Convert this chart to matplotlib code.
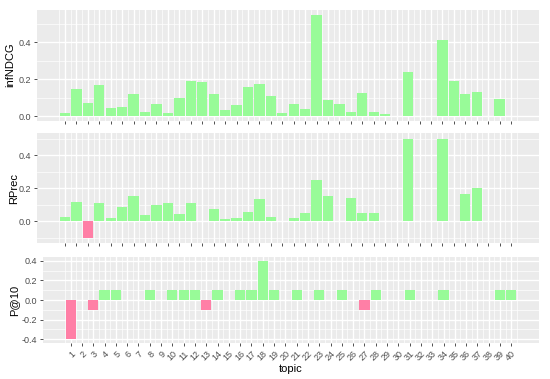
import numpy as np
import matplotlib
matplotlib.use("Agg")
import matplotlib.pyplot as plt

plt.rcParams['font.family'] = ['Liberation Sans', 'DejaVu Sans']

topics = list(range(1, 41))
infndcg = [0.018, 0.144, 0.070, 0.168, 0.043, 0.050, 0.117, 0.023, 0.067, 0.014,
           0.099, 0.191, 0.186, 0.117, 0.031, 0.059, 0.157, 0.173, 0.108, 0.018,
           0.063, 0.036, 0.548, 0.086, 0.065, 0.020, 0.124, 0.020, 0.011, 0.0,
           0.240, 0.0, 0.0, 0.409, 0.191, 0.117, 0.131, 0.0, 0.092, 0.0]
rprec = [0.030, 0.118, -0.100, 0.114, 0.020, 0.086, 0.152, 0.042, 0.100, 0.114,
         0.044, 0.112, 0.0, 0.076, 0.014, 0.022, 0.056, 0.136, 0.028, 0.0,
         0.024, 0.050, 0.252, 0.156, 0.0, 0.144, 0.054, 0.054, 0.0, 0.0,
         0.500, 0.0, 0.0, 0.500, 0.0, 0.168, 0.200, 0.0, 0.0, 0.0]
p10 = [-0.4, 0.0, -0.1, 0.1, 0.1, 0.0, 0.0, 0.1, 0.0, 0.1,
       0.1, 0.1, -0.1, 0.1, 0.0, 0.1, 0.1, 0.4, 0.1, 0.0,
       0.1, 0.0, 0.1, 0.0, 0.1, 0.0, -0.1, 0.1, 0.0, 0.0,
       0.1, 0.0, 0.0, 0.1, 0.0, 0.0, 0.0, 0.0, 0.1, 0.1]

GREEN = '#98FB98'
PINK = '#FF7FA6'
BG = '#EBEBEB'
TXT = '#4D4D4D'

W, H = 550, 379
fig = plt.figure(figsize=(W / 100, H / 100), dpi=100)


def make_ax(left, right, top, bottom):
    return fig.add_axes([left / W, 1 - bottom / H, (right - left) / W, (bottom - top) / H])


def style(ax, ylim, major, minor, show_labels):
    ax.set_facecolor(BG)
    for s in ax.spines.values():
        s.set_visible(False)
    ax.set_xlim(-1.45, 42.45)
    ax.set_ylim(*ylim)
    ax.set_xticks(topics)
    ax.set_xticks([t + 0.5 for t in topics[:-1]] + [0.5, 40.5], minor=True)
    ax.set_yticks(major)
    ax.set_yticks(minor, minor=True)
    ax.set_yticklabels([f'{v:.1f}' for v in major], color=TXT, fontsize=6.5)
    ax.grid(which='major', color='white', linewidth=1.0)
    ax.grid(which='minor', color='white', linewidth=0.5)
    ax.set_axisbelow(True)
    ax.tick_params(which='major', length=2.5, width=0.6, color='#333333', pad=2)
    ax.tick_params(which='minor', length=0)
    if show_labels:
        ax.set_xticklabels([str(t) for t in topics], rotation=45, ha='right',
                           rotation_mode='anchor', color=TXT, fontsize=6.5)
    else:
        ax.set_xticklabels([])


def bars(ax, vals):
    cols = [PINK if v < 0 else GREEN for v in vals]
    ax.bar(topics, vals, width=0.9, color=cols, linewidth=0)


ax1 = make_ax(37, 539, 9.5, 121)
style(ax1, (-0.027, 0.576), [0.0, 0.2, 0.4], [0.1, 0.3, 0.5], False)
bars(ax1, infndcg)

ax2 = make_ax(37, 539, 133, 243)
style(ax2, (-0.13, 0.535), [0.0, 0.2, 0.4], [-0.1, 0.1, 0.3, 0.5], False)
bars(ax2, rprec)

ax3 = make_ax(43, 539, 257, 343)
style(ax3, (-0.44, 0.44), [-0.4, -0.2, 0.0, 0.2, 0.4], [-0.3, -0.1, 0.1, 0.3], True)
bars(ax3, p10)

fig.text(10 / W, 1 - 65 / H, 'infNDCG', rotation=90, ha='center', va='center', fontsize=8)
fig.text(14 / W, 1 - 188 / H, 'RPrec', rotation=90, ha='center', va='center', fontsize=8)
fig.text(14 / W, 1 - 300 / H, 'P@10', rotation=90, ha='center', va='center', fontsize=8)
fig.text(291 / W, 1 - 369 / H, 'topic', ha='center', va='center', fontsize=8)

fig.savefig('out.png', dpi=100)
